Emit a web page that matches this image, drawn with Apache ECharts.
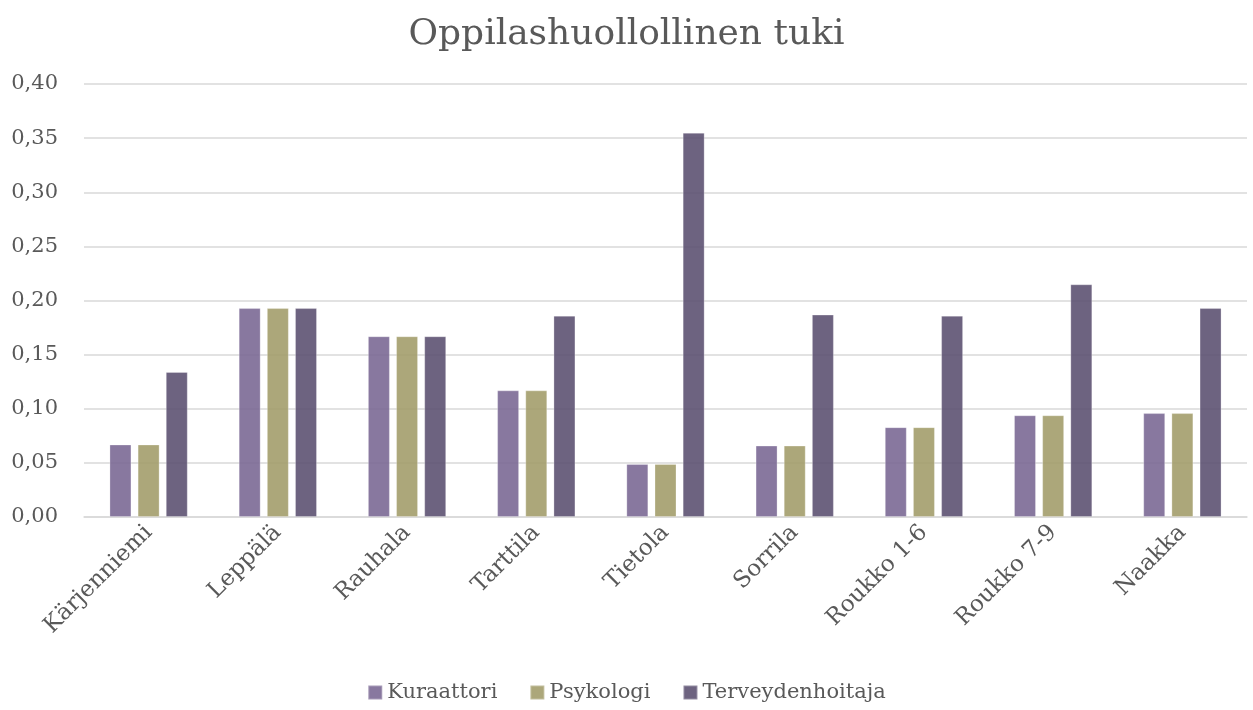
<!DOCTYPE html>
<html>
<head>
<meta charset="utf-8">
<script src="https://cdn.jsdelivr.net/npm/echarts@6/dist/echarts.min.js"></script>
<style>
  html, body { margin: 0; padding: 0; background: #fff; }
  #chart { width: 1253px; height: 710px; }
</style>
</head>
<body>
<div id="chart"></div>
<script>
// Koulut
const categories = ['Kärjenniemi', 'Leppälä', 'Rauhala', 'Tarttila', 'Tietola', 'Sorrila', 'Roukko 1-6', 'Roukko 7-9', 'Naakka'];
// Arvot sarjoittain
const kuraattori = [0.067, 0.193, 0.167, 0.117, 0.049, 0.066, 0.083, 0.094, 0.096];
const psykologi = [0.067, 0.193, 0.167, 0.117, 0.049, 0.066, 0.083, 0.094, 0.096];
const terveydenhoitaja = [0.134, 0.193, 0.167, 0.186, 0.355, 0.187, 0.186, 0.215, 0.193];
const seriesNames = ['Kuraattori', 'Psykologi', 'Terveydenhoitaja'];

const font = "'DejaVu Serif', 'Liberation Serif', serif";
const textColor = '#595959';
const colors = ['#7b6995', '#a39d6b', '#5d5272'];

const chart = echarts.init(document.getElementById('chart'));

const makeSeries = (name, data, i) => ({
  name,
  type: 'bar',
  data,
  barWidth: 22,
  barGap: '28%',
  itemStyle: {
    color: colors[i],
    opacity: 0.9,
    borderColor: 'rgba(255,255,255,0.3)',
    borderWidth: 1,
  },
});

chart.setOption({
  animation: false,
  color: colors,
  title: {
    text: 'Oppilashuollollinen tuki',
    left: 'center',
    top: 12,
    textStyle: { fontFamily: font, fontSize: 36, fontWeight: 'normal', color: textColor },
  },
  legend: {
    data: seriesNames,
    bottom: 2,
    left: 'center',
    icon: 'rect',
    itemWidth: 14,
    itemHeight: 14,
    itemGap: 32,
    textStyle: { fontFamily: font, fontSize: 21, color: textColor },
  },
  grid: { left: 84, right: 6, top: 84, bottom: 193, containLabel: false },
  xAxis: {
    type: 'category',
    data: categories,
    axisLine: { lineStyle: { color: '#d9d9d9', width: 1.5 } },
    axisTick: { show: false },
    axisLabel: {
      rotate: 45,
      interval: 0,
      margin: 12,
      fontFamily: font,
      fontSize: 23,
      color: textColor,
    },
  },
  yAxis: {
    type: 'value',
    min: 0,
    max: 0.4,
    interval: 0.05,
    axisLine: { show: false },
    axisTick: { show: false },
    splitLine: { lineStyle: { color: '#d9d9d9', width: 1.5 } },
    axisLabel: {
      margin: 26,
      fontFamily: font,
      fontSize: 21,
      color: textColor,
      formatter: (v) => v.toFixed(2).replace('.', ','),
    },
  },
  series: [
    makeSeries(seriesNames[0], kuraattori, 0),
    makeSeries(seriesNames[1], psykologi, 1),
    makeSeries(seriesNames[2], terveydenhoitaja, 2),
  ],
});
</script>
</body>
</html>
